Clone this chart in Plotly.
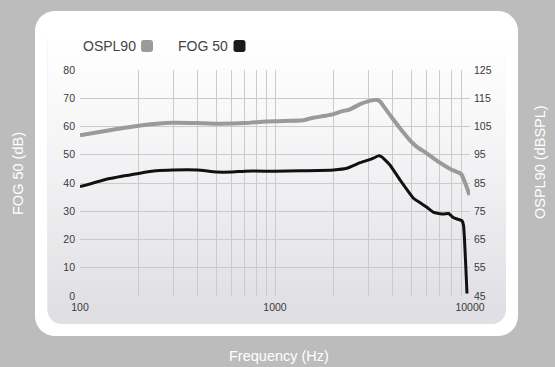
import plotly.graph_objects as go

# ---------------- data ----------------
freq_fog = [100, 142, 200, 246, 300, 400, 500, 600, 700, 1000, 1343, 2000, 2333, 2731,
            3000, 3197, 3391, 3520, 3894, 4384, 5130, 5555, 6012, 6503, 7315, 7762,
            8235, 9097, 9260, 9650]
fog50 = [38.7, 41.6, 43.4, 44.3, 44.6, 44.6, 43.9, 43.9, 44.2, 44.2, 44.3, 44.6, 45.2, 47.2,
         48.1, 48.8, 49.6, 49.3, 46.3, 41.0, 34.6, 33.0, 31.4, 29.6, 29.0, 29.2,
         27.7, 26.6, 25.1, 0.9]

freq_ospl = [100, 142, 200, 300, 400, 500, 700, 900, 1059, 1396, 1571, 1770, 2000, 2156,
             2426, 2731, 3000, 3340, 3469, 3672, 4000, 4384, 5000, 5340, 6000, 7000,
             8000, 9000, 9330, 9950]
ospl90 = [101.9, 103.7, 105.3, 106.3, 106.2, 106.0, 106.2, 106.8, 106.9, 107.2, 108.1, 108.7,
          109.4, 110.2, 111.1, 112.9, 113.9, 114.4, 113.8, 111.4, 107.9, 104.3, 99.6, 97.8,
          95.5, 92.2, 89.8, 88.2, 86.0, 80.7]

x_tick_vals = [100, 1000, 10000]
x_tick_text = ["100", "1000", "10000"]
x_grid_vals = [200, 300, 400, 500, 600, 700, 800, 900, 1000,
               2000, 3000, 4000, 5000, 6000, 7000, 8000, 9000]
y_left_ticks = [0, 10, 20, 30, 40, 50, 60, 70, 80]
y_left_grid = [10, 20, 30, 40, 50, 60, 70]
y_right_ticks = [45, 55, 65, 75, 85, 95, 105, 115, 125]

# ---------------- layout helpers ----------------
W, H = 555, 367
L, R, T, B = 80, 85, 70, 71
PW, PH = W - L - R, H - T - B


def X(px):
    return (px - L) / PW


def Y(py):
    return (H - B - py) / PH


def rounded(x0, y0, x1, y1, r):
    k = 0.5523 * r
    pts = [
        f"M{X(x0 + r)},{Y(y0)}",
        f"L{X(x1 - r)},{Y(y0)}",
        f"C{X(x1 - r + k)},{Y(y0)} {X(x1)},{Y(y0 + r - k)} {X(x1)},{Y(y0 + r)}",
        f"L{X(x1)},{Y(y1 - r)}",
        f"C{X(x1)},{Y(y1 - r + k)} {X(x1 - r + k)},{Y(y1)} {X(x1 - r)},{Y(y1)}",
        f"L{X(x0 + r)},{Y(y1)}",
        f"C{X(x0 + r - k)},{Y(y1)} {X(x0)},{Y(y1 - r + k)} {X(x0)},{Y(y1 - r)}",
        f"L{X(x0)},{Y(y0 + r)}",
        f"C{X(x0)},{Y(y0 + r - k)} {X(x0 + r - k)},{Y(y0)} {X(x0 + r)},{Y(y0)}",
        "Z",
    ]
    return " ".join(pts)


shapes = []
# white outer card
shapes.append(dict(type="path", xref="paper", yref="paper", layer="below",
                   path=rounded(35, 11, 518, 336, 20),
                   fillcolor="#ffffff", line=dict(width=0)))
# inner gradient panel: base (bottom colour) with rounded corners
top_c = (255, 255, 255)
bot_c = (223, 223, 228)
shapes.append(dict(type="path", xref="paper", yref="paper", layer="below",
                   path=rounded(47.5, 26, 506, 324, 14),
                   fillcolor="rgb(%d,%d,%d)" % bot_c, line=dict(width=0)))
y_start, y_end = 26, 310
nb = 40
for i in range(nb):
    ya = y_start + (y_end - y_start) * i / nb
    yb = y_start + (y_end - y_start) * (i + 1) / nb + 0.6
    t = (i + 0.5) / nb
    t = t ** 1.3
    c = tuple(round(top_c[j] + (bot_c[j] - top_c[j]) * t) for j in range(3))
    shapes.append(dict(type="rect", xref="paper", yref="paper", layer="below",
                       x0=X(47.5), x1=X(506), y0=Y(yb), y1=Y(ya),
                       fillcolor="rgb(%d,%d,%d)" % c, line=dict(width=0)))


def square(x0, y0, s, r, color):
    return dict(type="path", xref="paper", yref="paper", layer="above",
                path=rounded(x0, y0, x0 + s, y0 + s, r),
                fillcolor=color, line=dict(width=0))


shapes.append(square(141, 40, 12, 2.5, "#9b9b9b"))
shapes.append(square(233.5, 40, 12, 2.5, "#1a1a1a"))

FONT = "Liberation Sans, Arial, Helvetica, sans-serif"
annotations = [
    dict(text="OSPL90", x=X(81), y=Y(46), xref="paper", yref="paper", xanchor="left",
         yanchor="middle", showarrow=False, font=dict(size=14, color="#444444", family=FONT)),
    dict(text="FOG 50", x=X(175.5), y=Y(46), xref="paper", yref="paper", xanchor="left",
         yanchor="middle", showarrow=False, font=dict(size=14, color="#444444", family=FONT)),
    dict(text="FOG 50 (dB)", x=X(18), y=Y(174), xref="paper", yref="paper", xanchor="center",
         yanchor="middle", textangle=-90, showarrow=False,
         font=dict(size=14.5, color="#ffffff", family=FONT)),
    dict(text="OSPL90 (dBSPL)", x=X(540), y=Y(162), xref="paper", yref="paper", xanchor="center",
         yanchor="middle", textangle=-90, showarrow=False,
         font=dict(size=14.5, color="#ffffff", family=FONT)),
    dict(text="Frequency (Hz)", x=X(279), y=Y(356), xref="paper", yref="paper", xanchor="center",
         yanchor="middle", showarrow=False, font=dict(size=14.5, color="#ffffff", family=FONT)),
]

fig = go.Figure()
fig.add_trace(go.Scatter(x=freq_ospl, y=ospl90, yaxis="y2", mode="lines", name="OSPL90",
                         line=dict(color="#9a9a9a", width=4, shape="spline", smoothing=0.5),
                         showlegend=False))
fig.add_trace(go.Scatter(x=freq_fog, y=fog50, mode="lines", name="FOG 50",
                         line=dict(color="#111111", width=3, shape="spline", smoothing=0.4),
                         showlegend=False))

tickfont = dict(size=10.5, color="#3a3a3a", family=FONT)
fig.update_layout(
    width=W, height=H,
    margin=dict(l=L, r=R, t=T, b=B, pad=0),
    paper_bgcolor="#bcbcbc",
    plot_bgcolor="rgba(0,0,0,0)",
    shapes=shapes,
    annotations=annotations,
    showlegend=False,
    xaxis=dict(type="log", range=[2, 4], tickmode="array", tickvals=x_tick_vals,
               ticktext=x_tick_text, showgrid=False, zeroline=False, showline=False,
               ticks="", ticklabelstandoff=3, tickfont=tickfont,
               minor=dict(tickmode="array", tickvals=x_grid_vals, showgrid=True,
                          gridcolor="#cbcbcb", gridwidth=1, ticks="")),
    yaxis=dict(range=[0, 80], tickmode="array", tickvals=y_left_ticks, showgrid=False,
               zeroline=False, showline=False, ticks="", ticklabelstandoff=4,
               tickfont=tickfont,
               minor=dict(tickmode="array", tickvals=y_left_grid, showgrid=True,
                          gridcolor="#cbcbcb", gridwidth=1, ticks="")),
    yaxis2=dict(range=[45, 125], overlaying="y", side="right", tickmode="array",
                tickvals=y_right_ticks, showgrid=False, zeroline=False, showline=False,
                ticks="", ticklabelstandoff=3, tickfont=tickfont),
)

fig.write_html("out.html", config={"displayModeBar": False},
               post_script="document.body.style.margin='0';")
